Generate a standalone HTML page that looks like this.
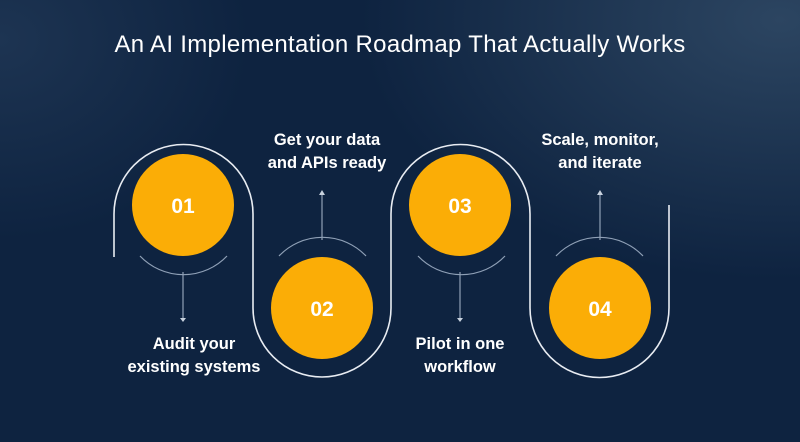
<!DOCTYPE html>
<html><head><style>
html,body{margin:0;padding:0}
body{width:800px;height:442px;overflow:hidden;position:relative;font-family:"Liberation Sans",sans-serif;
background:radial-gradient(ellipse 420px 260px at 780px 20px,#2c4561 0%,rgba(20,40,66,0) 100%),radial-gradient(ellipse 250px 200px at 0px 40px,#1d3452 0%,rgba(15,35,62,0) 100%),#0e2340;}
.t{position:absolute;left:0;width:800px;text-align:center;top:31px;color:#fff;font-size:24px;letter-spacing:0.3px}
.l{position:absolute;color:#fff;font-weight:bold;font-size:16.5px;line-height:23px;text-align:center;width:200px}
svg{position:absolute;left:0;top:0}
</style></head><body>
<svg width="800" height="442">
<g fill="none" stroke="#e8ecf2" stroke-width="1.6">
<path d="M114 257 V214 A69.5 69.5 0 0 1 253 214 V308 A69 69 0 0 0 391 308 V214 A69.5 69.5 0 0 1 530 214 V308 A69.5 69.5 0 0 0 669 308 V205"/>
</g>
<g fill="none" stroke="#8fa0b6" stroke-width="1.2">
<path d="M140 256 A60 60 0 0 0 227 256"/>
<path d="M279 256 A60 60 0 0 1 366 256"/>
<path d="M418 256 A60 60 0 0 0 505 256"/>
<path d="M556 256 A60 60 0 0 1 643 256"/>
<path d="M183 272 V318 M322 240 V194 M460 272 V318 M600 240 V194"/>
</g>
<g fill="#c8d2de">
<path d="M180 318 L186 318 L183 322Z"/><path d="M457 318 L463 318 L460 322Z"/>
<path d="M319 195 L325 195 L322 190Z"/><path d="M597 195 L603 195 L600 190Z"/>
</g>
<g fill="#fbad06">
<circle cx="183" cy="205" r="51"/><circle cx="322" cy="308" r="51"/>
<circle cx="460" cy="205" r="51"/><circle cx="600" cy="308" r="51"/>
</g>
<g fill="#fff" font-family="Liberation Sans,sans-serif" font-weight="bold" font-size="21" text-anchor="middle">
<text x="183" y="213">01</text><text x="322" y="316">02</text>
<text x="460" y="213">03</text><text x="600" y="316">04</text>
</g>
</svg>
<div class="t">An AI Implementation Roadmap That Actually Works</div>
<div class="l" style="left:94px;top:333px">Audit your<br>existing systems</div>
<div class="l" style="left:227px;top:129px">Get your data<br>and APIs ready</div>
<div class="l" style="left:360px;top:333px">Pilot in one<br>workflow</div>
<div class="l" style="left:500px;top:129px">Scale, monitor,<br>and iterate</div>
</body></html>
